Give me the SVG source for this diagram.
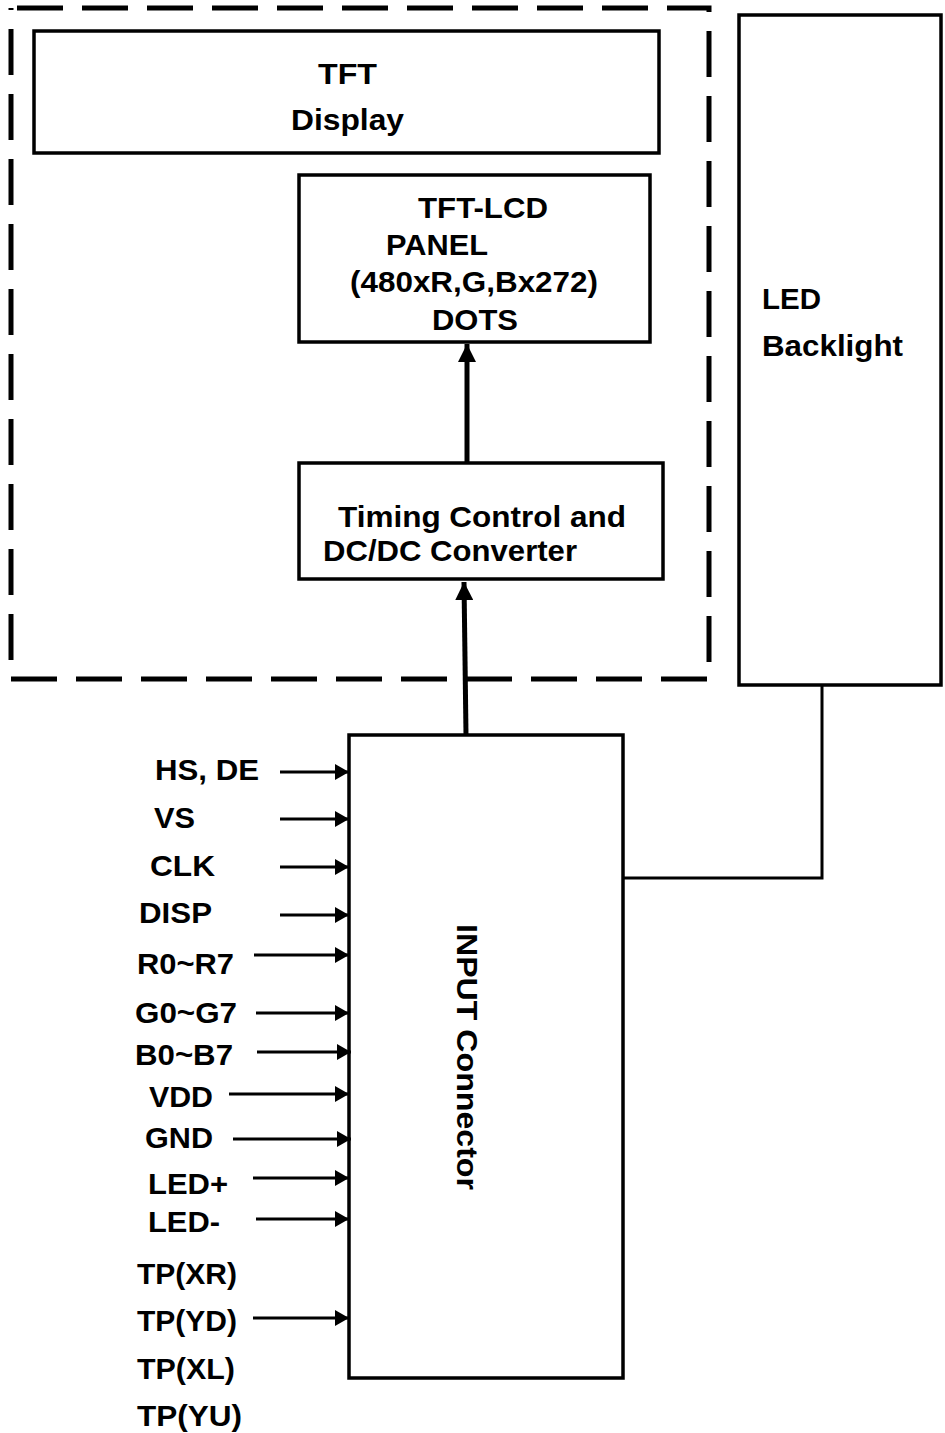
<svg xmlns="http://www.w3.org/2000/svg" width="945" height="1433" viewBox="0 0 945 1433">
<style>
text{font-family:"Liberation Sans",Arial,sans-serif;font-weight:bold;fill:#000;font-size:30px}
.box{fill:#fff;stroke:#000;stroke-width:3.5}
.sig{stroke:#000;stroke-width:3;fill:none}
.big{stroke:#000;stroke-width:5;fill:none}
.wire{stroke:#000;stroke-width:3;fill:none}
</style>
<defs>
<marker id="ah" viewBox="0 0 14 16" refX="14" refY="8" markerWidth="14" markerHeight="16" markerUnits="userSpaceOnUse" orient="auto"><path d="M0,0 L14,8 L0,16 z" fill="#000"/></marker>
<marker id="ahb" viewBox="0 0 18 18" refX="18" refY="9" markerWidth="18" markerHeight="18" markerUnits="userSpaceOnUse" orient="auto"><path d="M0,0 L18,9 L0,18 z" fill="#000"/></marker>
</defs>
<rect x="0" y="0" width="945" height="1433" fill="#fff"/>

<g id="tft-module-boundary">
<rect x="11" y="8" width="698" height="671" fill="none" stroke="#000" stroke-width="5" stroke-dasharray="46 19" stroke-dashoffset="-6"/>
</g>

<g id="tft-display">
<rect class="box" x="34" y="31" width="625" height="122" stroke-width="2"/>
<text x="318" y="84" textLength="59" lengthAdjust="spacingAndGlyphs">TFT</text>
<text x="291" y="130" textLength="113" lengthAdjust="spacingAndGlyphs">Display</text>
</g>

<g id="tft-lcd-panel">
<rect class="box" x="299" y="175" width="351" height="167"/>
<text x="418" y="218" textLength="130" lengthAdjust="spacingAndGlyphs">TFT-LCD</text>
<text x="386" y="255" textLength="102" lengthAdjust="spacingAndGlyphs">PANEL</text>
<text x="350" y="292" textLength="248" lengthAdjust="spacingAndGlyphs">(480xR,G,Bx272)</text>
<text x="432" y="330" textLength="86" lengthAdjust="spacingAndGlyphs">DOTS</text>
</g>

<g id="timing-control">
<rect class="box" x="299" y="463" width="364" height="116"/>
<text x="338" y="527" font-size="29" textLength="288" lengthAdjust="spacingAndGlyphs">Timing Control and</text>
<text x="323" y="561" font-size="29" textLength="254" lengthAdjust="spacingAndGlyphs">DC/DC Converter</text>
</g>

<g id="led-backlight">
<rect class="box" x="739" y="15" width="202" height="670" stroke-width="4"/>
<text x="762" y="309" textLength="59" lengthAdjust="spacingAndGlyphs">LED</text>
<text x="762" y="356" textLength="141" lengthAdjust="spacingAndGlyphs">Backlight</text>
</g>

<g id="input-connector">
<rect class="box" x="349" y="735" width="274" height="643" stroke-width="4"/>
<text transform="translate(457,924) rotate(90)" x="0" y="0" font-size="31" textLength="266" lengthAdjust="spacingAndGlyphs">INPUT Connector</text>
</g>

<g id="signal-labels">
<text x="155" y="780" textLength="104" lengthAdjust="spacingAndGlyphs">HS, DE</text>
<text x="154" y="828" textLength="41" lengthAdjust="spacingAndGlyphs">VS</text>
<text x="150" y="876" textLength="65" lengthAdjust="spacingAndGlyphs">CLK</text>
<text x="139" y="923" textLength="73" lengthAdjust="spacingAndGlyphs">DISP</text>
<text x="137" y="974" textLength="97" lengthAdjust="spacingAndGlyphs">R0~R7</text>
<text x="135" y="1023" textLength="102" lengthAdjust="spacingAndGlyphs">G0~G7</text>
<text x="135" y="1065" textLength="98" lengthAdjust="spacingAndGlyphs">B0~B7</text>
<text x="149" y="1107" textLength="64" lengthAdjust="spacingAndGlyphs">VDD</text>
<text x="145" y="1148" textLength="68" lengthAdjust="spacingAndGlyphs">GND</text>
<text x="148" y="1194" textLength="80" lengthAdjust="spacingAndGlyphs">LED+</text>
<text x="148" y="1232" textLength="72" lengthAdjust="spacingAndGlyphs">LED-</text>
<text x="137" y="1284" textLength="100" lengthAdjust="spacingAndGlyphs">TP(XR)</text>
<text x="137" y="1331" textLength="100" lengthAdjust="spacingAndGlyphs">TP(YD)</text>
<text x="137" y="1379" textLength="98" lengthAdjust="spacingAndGlyphs">TP(XL)</text>
<text x="137" y="1426" textLength="105" lengthAdjust="spacingAndGlyphs">TP(YU)</text>
</g>

<g id="connectors">
<line class="big" x1="467" y1="463" x2="467" y2="344" marker-end="url(#ahb)"/>
<line class="big" x1="466" y1="735" x2="464" y2="582" marker-end="url(#ahb)"/>
<polyline class="wire" points="822,685 822,878 623,878"/>
<line class="sig" x1="280" y1="772" x2="349" y2="772" marker-end="url(#ah)"/>
<line class="sig" x1="280" y1="819" x2="349" y2="819" marker-end="url(#ah)"/>
<line class="sig" x1="280" y1="867" x2="349" y2="867" marker-end="url(#ah)"/>
<line class="sig" x1="280" y1="915" x2="349" y2="915" marker-end="url(#ah)"/>
<line class="sig" x1="254" y1="955" x2="349" y2="955" marker-end="url(#ah)"/>
<line class="sig" x1="256" y1="1013" x2="349" y2="1013" marker-end="url(#ah)"/>
<line class="sig" x1="257" y1="1052" x2="351" y2="1052" marker-end="url(#ah)"/>
<line class="sig" x1="229" y1="1094" x2="349" y2="1094" marker-end="url(#ah)"/>
<line class="sig" x1="233" y1="1139" x2="351" y2="1139" marker-end="url(#ah)"/>
<line class="sig" x1="253" y1="1178" x2="349" y2="1178" marker-end="url(#ah)"/>
<line class="sig" x1="256" y1="1219" x2="349" y2="1219" marker-end="url(#ah)"/>
<line class="sig" x1="253" y1="1318" x2="349" y2="1318" marker-end="url(#ah)"/>
</g>
</svg>
